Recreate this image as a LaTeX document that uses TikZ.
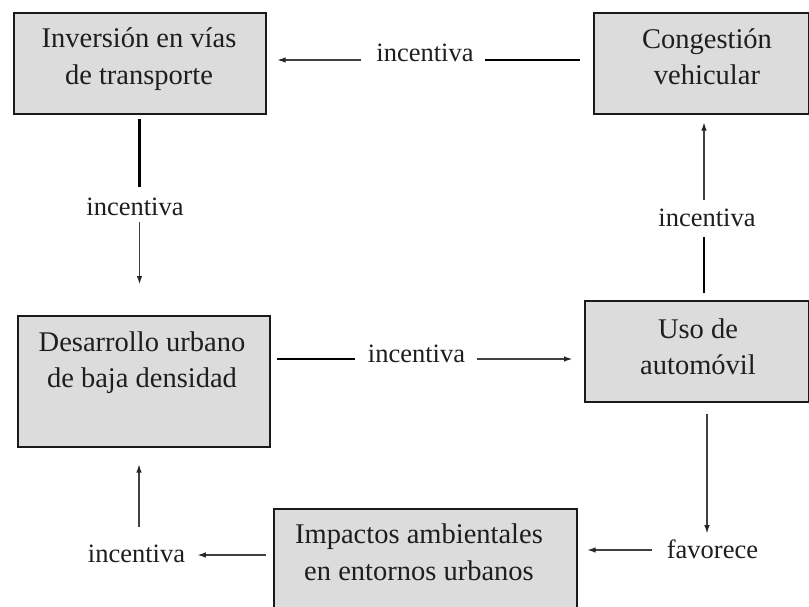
\documentclass[tikz,border=0pt]{standalone}
\usepackage{fontspec}
\setmainfont{Liberation Serif}
\usetikzlibrary{arrows.meta}
\definecolor{boxfill}{HTML}{DCDCDC}
\definecolor{boxline}{HTML}{1A1A1A}
\definecolor{arrgray}{HTML}{404040}
\definecolor{ink}{HTML}{1E1E1E}
\tikzset{
  box/.style={draw=boxline, fill=boxfill, line width=1.6pt, inner sep=0pt, anchor=north west},
  boxtext/.style={font=\fontsize{28.5}{36.5}\selectfont, align=center, anchor=north, inner sep=0pt, text=ink},
  lbl/.style={font=\fontsize{26.5}{30}\selectfont, anchor=base, inner sep=0pt, text=ink},
  heavy/.style={line width=2.8pt, draw=black},
  arr/.style={line width=1.9pt, draw=arrgray, -{Latex[length=9pt,width=5.5pt,color=black!85]}},
}
\begin{document}
\begin{tikzpicture}[x=1pt,y=-1pt]
\useasboundingbox (0,0) rectangle (809,607);
\clip (0,0) rectangle (809,607);
\fill[white] (0,0) rectangle (809,607);
% boxes
\node[box, minimum width=252pt, minimum height=101pt] (A) at (13,12) {};
\node[box, minimum width=215pt, minimum height=101pt] (B) at (593,12) {};
\node[box, minimum width=252pt, minimum height=131pt] (C) at (17,315) {};
\node[box, minimum width=224pt, minimum height=101pt] (D) at (584,300) {};
\node[box, minimum width=303pt, minimum height=117pt] (E) at (273,508) {};
% box texts
\node[boxtext] (At) at (139,25.7) {\rule{0pt}{22pt}Inversión en vías\\de transporte};
\node[boxtext] (Bt) at (707,26) {\rule{0pt}{22pt}Congestión\\vehicular};
\node[boxtext] (Ct) at (142,329) {\rule{0pt}{22pt}Desarrollo urbano\\de baja densidad};
\node[boxtext] (Dt) at (698,316) {\rule{0pt}{22pt}Uso de\\automóvil};
\node[boxtext] (Et) at (419,521.5) {\rule{0pt}{22pt}Impactos ambientales\\en entornos urbanos};
% labels
\node[lbl] (L1) at (425,62) {incentiva};
\node[lbl] (L2) at (135,215) {incentiva};
\node[lbl] (L3) at (416.5,362) {incentiva};
\node[lbl] (L4) at (707,226) {incentiva};
\node[lbl] (L5) at (712.5,558) {favorece};
\node[lbl] (L6) at (136.5,562) {incentiva};
% line positions
\coordinate (h1) at (0,60);
\coordinate (v2) at (139.5,0);
\coordinate (h3) at (0,359);
\coordinate (v4) at (704,0);
\coordinate (v5) at (707,0);
\coordinate (h6) at (0,550);
\coordinate (h7) at (0,555);
\coordinate (v8) at (139,0);
% connectors
\draw[heavy, shorten <=13pt, shorten >=11pt] (B.west |- h1) -- (L1.east |- h1);
\draw[arr, shorten <=15pt, shorten >=10pt] (L1.west |- h1) -- (A.east |- h1);
\draw[heavy, shorten <=4pt, shorten >=10pt] (A.south -| v2) -- (L2.north -| v2);
\draw[arr, shorten <=7pt, shorten >=30pt] (L2.south -| v2) -- (C.north -| v2);
\draw[heavy, shorten <=6pt, shorten >=13pt] (C.east |- h3) -- (L3.west |- h3);
\draw[arr, shorten <=12pt, shorten >=11pt] (L3.east |- h3) -- (D.west |- h3);
\draw[heavy, shorten <=7pt, shorten >=11pt] (D.north -| v4) -- (L4.south -| v4);
\draw[arr, shorten <=8pt, shorten >=7pt] (L4.north -| v4) -- (B.south -| v4);
\draw[arr, shorten <=11pt, shorten >=5pt] (D.south -| v5) -- (L5.north -| v5);
\draw[arr, shorten <=15pt, shorten >=9pt] (L5.west |- h6) -- (E.east |- h6);
\draw[arr, shorten <=7pt, shorten >=11.5pt] (E.west |- h7) -- (L6.east |- h7);
\draw[arr, shorten <=17pt, shorten >=16pt] (L6.north -| v8) -- (C.south -| v8);
\end{tikzpicture}
\end{document}
